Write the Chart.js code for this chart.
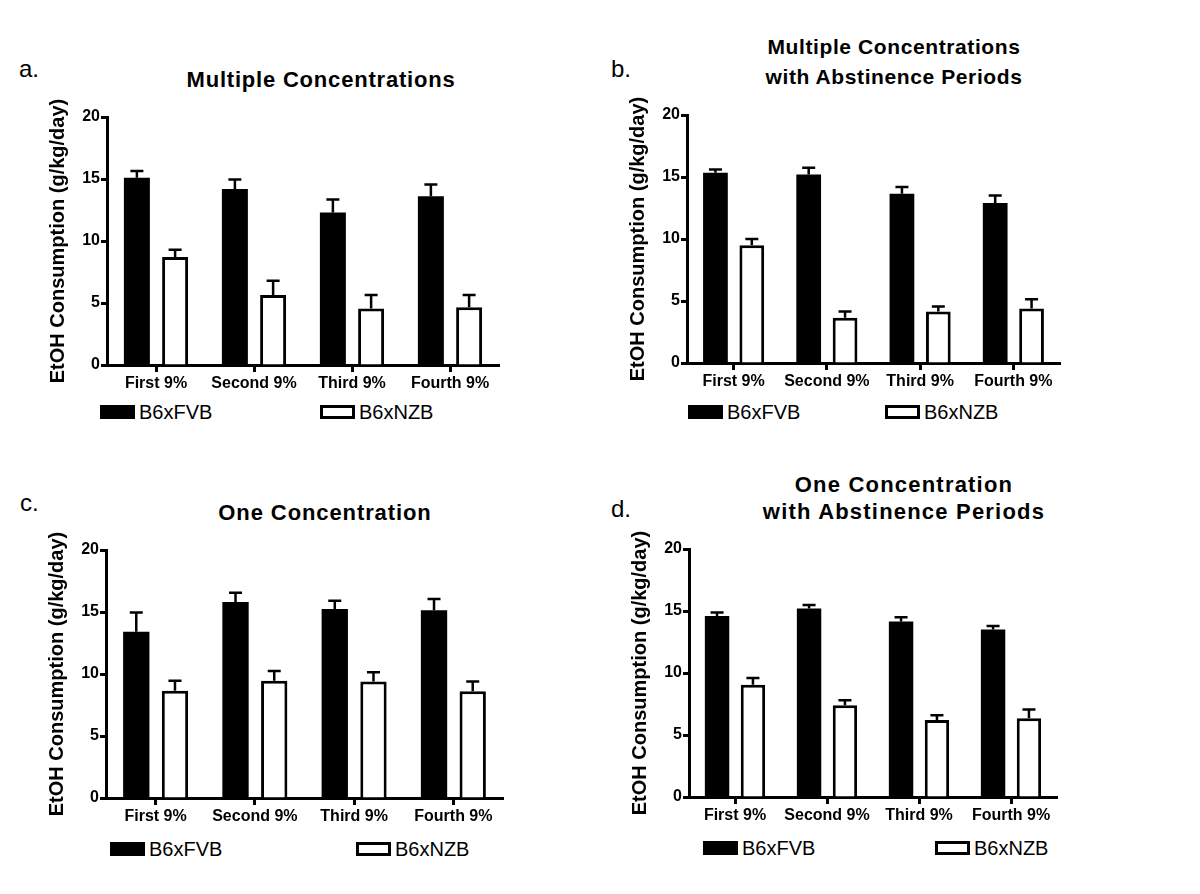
<!DOCTYPE html>
<html>
<head>
<meta charset="utf-8">
<script src="https://cdn.jsdelivr.net/npm/chart.js@4.4.0/dist/chart.umd.min.js"></script>
<style>
  body { margin: 0; background: #fff; width: 1200px; height: 894px; position: relative; overflow: hidden;
         font-family: 'Liberation Sans', Arial, sans-serif; color: #000; }
  .box { position: absolute; }
  .letter { position: absolute; font-size: 24px; line-height: 24px; }
  .title { position: absolute; font-weight: bold; text-align: center; white-space: nowrap; transform: translateX(-50%); }
  .leg { position: absolute; font-size: 20px; line-height: 20px; display: flex; align-items: center; white-space: nowrap; }
  .sw { display: inline-block; width: 35px; height: 14px; box-sizing: border-box; margin-right: 4px; }
</style>
</head>
<body>
<script>
// categories / series
const categories = ['First 9%', 'Second 9%', 'Third 9%', 'Fourth 9%'];
const seriesNames = ['B6xFVB', 'B6xNZB'];
const yTicks = [0, 5, 10, 15, 20];
const yTitle = 'EtOH Consumption (g/kg/day)';

// a. Multiple Concentrations
const aFvb = [15.1, 14.2, 12.3, 13.6];
const aFvbErr = [0.55, 0.75, 1.05, 0.95];
const aNzb = [8.7, 5.65, 4.55, 4.65];
const aNzbErr = [0.6, 1.15, 1.1, 1.0];

// b. Multiple Concentrations with Abstinence Periods
const bFvb = [15.35, 15.2, 13.65, 12.9];
const bFvbErr = [0.25, 0.55, 0.55, 0.6];
const bNzb = [9.5, 3.65, 4.15, 4.4];
const bNzbErr = [0.5, 0.5, 0.4, 0.75];

// c. One Concentration
const cFvb = [13.4, 15.8, 15.25, 15.15];
const cFvbErr = [1.55, 0.75, 0.65, 0.9];
const cNzb = [8.65, 9.45, 9.4, 8.6];
const cNzbErr = [0.8, 0.8, 0.75, 0.8];

// d. One Concentration with Abstinence Periods
const dFvb = [14.6, 15.2, 14.15, 13.5];
const dFvbErr = [0.28, 0.28, 0.35, 0.3];
const dNzb = [9.05, 7.4, 6.2, 6.35];
const dNzbErr = [0.55, 0.4, 0.4, 0.7];

// where each panel sits on the page
const panels = [
  { letter: 'a.', title: ['Multiple Concentrations'], fvb: aFvb, fvbErr: aFvbErr, nzb: aNzb, nzbErr: aNzbErr,
    area: { l: 107, r: 499, t: 117, b: 365 }, letterPos: [19, 57],
    titleStyle: { x: 321, y: 65, size: 22, ls: 0.8, lh: 30 },
    legFvb: [100, 412], legNzb: [320, 412] },
  { letter: 'b.', title: ['Multiple Concentrations', 'with Abstinence Periods'], fvb: bFvb, fvbErr: bFvbErr, nzb: bNzb, nzbErr: bNzbErr,
    area: { l: 687, r: 1060, t: 115, b: 363 }, letterPos: [611, 57],
    titleStyle: { x: 894, y: 32, size: 21, ls: 0.6, lh: 30 },
    legFvb: [688, 412], legNzb: [885, 412] },
  { letter: 'c.', title: ['One Concentration'], fvb: cFvb, fvbErr: cFvbErr, nzb: cNzb, nzbErr: cNzbErr,
    area: { l: 106, r: 503, t: 550, b: 798 }, letterPos: [20, 491],
    titleStyle: { x: 325, y: 498, size: 22, ls: 0.9, lh: 30 },
    legFvb: [110, 849], legNzb: [356, 849] },
  { letter: 'd.', title: ['One Concentration', 'with Abstinence Periods'], fvb: dFvb, fvbErr: dFvbErr, nzb: dNzb, nzbErr: dNzbErr,
    area: { l: 689, r: 1057, t: 549, b: 797 }, letterPos: [611, 497],
    titleStyle: { x: 904, y: 471, size: 22, ls: 1.2, lh: 27 },
    legFvb: [703, 848], legNzb: [935, 848] }
];

const FONT = "'Liberation Sans', Arial, sans-serif";
const Y_W = 61, X_H = 40, PAD_T = 30, PAD_R = 12;

// upper-only SEM bars, GraphPad style
const errorBars = {
  id: 'errorBars',
  afterDatasetsDraw(chart) {
    const ctx = chart.ctx, y = chart.scales.y;
    chart.data.datasets.forEach((ds, i) => {
      chart.getDatasetMeta(i).data.forEach((bar, j) => {
        const top = y.getPixelForValue(ds.data[j] + ds.err[j]);
        ctx.save();
        ctx.strokeStyle = '#000';
        ctx.lineWidth = 2.5;
        ctx.beginPath();
        ctx.moveTo(bar.x, bar.y);
        ctx.lineTo(bar.x, top);
        ctx.moveTo(bar.x - 6.5, top);
        ctx.lineTo(bar.x + 6.5, top);
        ctx.stroke();
        ctx.restore();
      });
    });
  }
};

function addDiv(cls, x, y, html) {
  const d = document.createElement('div');
  d.className = cls;
  d.style.left = x + 'px';
  d.style.top = y + 'px';
  d.innerHTML = html;
  document.body.appendChild(d);
  return d;
}

panels.forEach(p => {
  addDiv('letter', p.letterPos[0], p.letterPos[1], p.letter);
  const t = addDiv('title', p.titleStyle.x, p.titleStyle.y, p.title.join('<br>'));
  t.style.fontSize = p.titleStyle.size + 'px';
  t.style.letterSpacing = p.titleStyle.ls + 'px';
  t.style.lineHeight = p.titleStyle.lh + 'px';
  addDiv('leg', p.legFvb[0], p.legFvb[1] - 10, '<span class="sw" style="background:#000"></span>' + seriesNames[0]);
  addDiv('leg', p.legNzb[0], p.legNzb[1] - 10, '<span class="sw" style="border:3px solid #000;background:#fff"></span>' + seriesNames[1]);

  const w = Y_W + (p.area.r - p.area.l) + PAD_R;
  const h = PAD_T + (p.area.b - p.area.t) + X_H;
  const box = addDiv('box', p.area.l - Y_W, p.area.t - PAD_T, '');
  box.style.width = w + 'px';
  box.style.height = h + 'px';
  const cv = document.createElement('canvas');
  box.appendChild(cv);

  new Chart(cv, {
    type: 'bar',
    data: {
      labels: categories,
      datasets: [
        { label: seriesNames[0], data: p.fvb, err: p.fvbErr, backgroundColor: '#000', borderColor: '#000', borderWidth: 0 },
        { label: seriesNames[1], data: p.nzb, err: p.nzbErr, backgroundColor: '#fff', borderColor: '#000', borderWidth: 3, borderSkipped: 'bottom' }
      ]
    },
    options: {
      responsive: true,
      maintainAspectRatio: false,
      animation: false,
      categoryPercentage: 0.78,
      barPercentage: 0.68,
      layout: { padding: { top: PAD_T, right: PAD_R, left: 0, bottom: 0 } },
      plugins: { legend: { display: false }, tooltip: { enabled: false }, title: { display: false } },
      scales: {
        x: {
          grid: { display: true, drawOnChartArea: false, offset: false, tickLength: 7, tickWidth: 3, tickColor: '#000' },
          border: { display: true, color: '#000', width: 3 },
          ticks: { color: '#000', font: { family: FONT, size: 16, weight: 'bold' }, padding: 2, maxRotation: 0 },
          afterFit(s) { s.height = X_H; }
        },
        y: {
          min: 0, max: 20,
          afterBuildTicks(s) { s.ticks = yTicks.map(v => ({ value: v })); },
          grid: { display: true, drawOnChartArea: false, tickLength: 6, tickWidth: 3, tickColor: '#000' },
          border: { display: true, color: '#000', width: 3 },
          ticks: { color: '#000', font: { family: FONT, size: 16, weight: 'bold' }, padding: 1 },
          title: { display: true, text: yTitle, color: '#000', font: { family: FONT, size: 20, weight: 'bold' }, padding: 0 },
          afterFit(s) { s.width = Y_W; }
        }
      }
    },
    plugins: [errorBars]
  });
});
</script>
</body>
</html>
